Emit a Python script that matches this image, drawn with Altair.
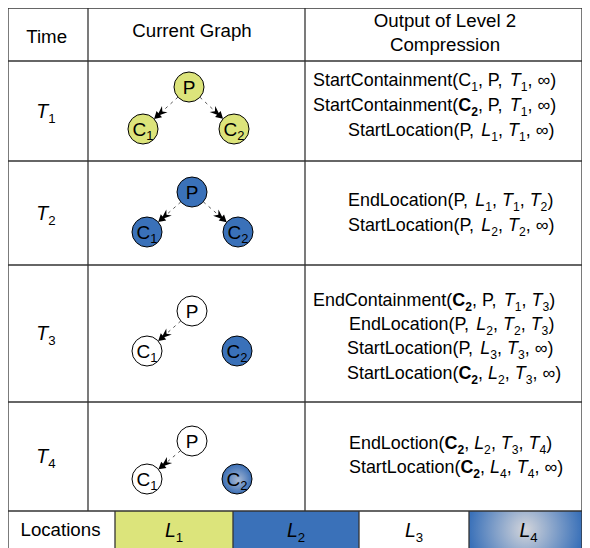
import math
import altair as alt
import pandas as pd

# ---------------- table layout (reference pixel coordinates) ----------------
col_x = [6, 88, 305, 588]
row_y = [4, 61, 161, 265, 402, 511]
legend_x = [6, 115, 233, 359, 469, 588]
legend_bottom = 548

headers = ["Time", "Current Graph", "Output of Level 2", "Compression"]
header_x = [47, 192, 445, 445]
header_y = [37, 31, 21, 45]

time_labels = ["*T_1", "*T_2", "*T_3", "*T_4"]
time_x = 46

# graph nodes per time row
p_x = [189, 192, 192, 192]
p_y = [87, 192, 311, 441]
c1_x = [143, 147, 147, 147]
c2_x = [234, 238, 237, 237]
c_y = [129, 232, 351, 479]
p_fill = ["yellow", "blue", "white", "white"]
c1_fill = ["yellow", "blue", "white", "white"]
c2_fill = ["yellow", "blue", "blue", "gradient"]
edge_targets = [["C1", "C2"], ["C1", "C2"], ["C1"], ["C1"]]

# markup: *X italic, #X bold, _X subscript, ~X bold subscript
output_lines = [
    ["StartContainment(C_1, P, *T_1, ∞)",
     "StartContainment(#C~2, P, *T_1, ∞)",
     "StartLocation(P, *L_1, *T_1, ∞)"],
    ["EndLocation(P, *L_1, *T_1, *T_2)",
     "StartLocation(P, *L_2, *T_2, ∞)"],
    ["EndContainment(#C~2, P, *T_1, *T_3)",
     "EndLocation(P, *L_2, *T_2, *T_3)",
     "StartLocation(P, *L_3, *T_3, ∞)",
     "StartLocation(#C~2, *L_2, *T_3, ∞)"],
    ["EndLoction(#C~2, *L_2, *T_3, *T_4)",
     "StartLocation(#C~2, *L_4, *T_4, ∞)"],
]
output_x = [[313, 313, 348], [348, 348], [313, 349, 347, 347], [349, 349]]
output_y = [[80, 105, 130], [200, 225], [300, 324, 348, 373], [443, 467]]

legend_labels = ["Locations", "*L_1", "*L_2", "*L_3", "*L_4"]
legend_fill = ["white", "yellow", "blue", "white", "gradient"]
legend_text_y = 530

palette = {"yellow": "#DCE47B", "blue": "#3A71B9", "white": "#FFFFFF"}

# ---------------- geometry helpers ----------------
W, H = 574, 540
# piecewise scales: 1:1 with the reference inside, squeezed only at the outer borders
XDOM, XRNG = [6, 14, 580, 588], [0, 6, 572, 574]
YDOM, YRNG = [4, 16, 548], [0, 8, 540]
sx = sy = 1.0

FONT = "Liberation Sans"
SUB = 0.68
CAP = 0.688

ARIAL = dict(zip("ABCDEFGHIJKLMNOPQRSTUVWXYZ",
                 [667, 667, 722, 722, 667, 611, 778, 722, 278, 500, 667, 556, 833,
                  722, 778, 667, 778, 722, 667, 611, 722, 667, 944, 667, 667, 611]))
ARIAL.update(dict(zip("abcdefghijklmnopqrstuvwxyz",
                      [556, 556, 500, 556, 556, 278, 556, 556, 222, 222, 500, 222, 833,
                       556, 556, 556, 556, 333, 500, 278, 556, 500, 722, 500, 500, 500])))
ARIAL.update({d: 556 for d in "0123456789"})
ARIAL.update({" ": 278, "(": 333, ")": 333, ",": 278, "∞": 713})


def parse(markup):
    toks, i = [], 0
    while i < len(markup):
        ch = markup[i]
        if ch in "*#_~" and i + 1 < len(markup):
            style = {"*": "i", "#": "b", "_": "n", "~": "b"}[ch]
            toks.append((markup[i + 1], style, ch in "_~"))
            i += 2
        else:
            toks.append((ch, "n", False))
            i += 1
    runs = []
    for c, style, sub in toks:
        if runs and runs[-1][1] == style and runs[-1][2] == sub:
            runs[-1][0] += c
        else:
            runs.append([c, style, sub])
    return runs


text_rows = []


def place(markup, x, yc, size, align="left"):
    runs = parse(markup)
    widths = []
    for txt, style, sub in runs:
        s = size * SUB if sub else size
        widths.append(sum(ARIAL.get(c, 556) for c in txt) / 1000 * s / sx)
    total = sum(widths)
    if align == "center":
        x = x - total / 2
    base = yc + CAP * size / 2 / sy
    for (txt, style, sub), w in zip(runs, widths):
        text_rows.append(dict(
            x=x, y=base + (0.26 * size / sy if sub else 0), text=txt, style=style,
            size=size * SUB if sub else size))
        x += w


for t, hx, hy in zip(headers, header_x, header_y):
    place(t, hx, hy, 18.7, "center")

for k in range(4):
    yc = (row_y[k + 1] + row_y[k + 2]) / 2
    place(time_labels[k], time_x, yc, 19.5, "center")
    place("P", p_x[k], p_y[k], 19, "center")
    place("C_1", c1_x[k], c_y[k], 19, "center")
    place("C_2", c2_x[k], c_y[k], 19, "center")
    for line, lx, ly in zip(output_lines[k], output_x[k], output_y[k]):
        place(line, lx, ly, 17.9)

for i, lab in enumerate(legend_labels):
    cx = (legend_x[i] + legend_x[i + 1]) / 2
    place(lab, cx, legend_text_y, 18.7 if i == 0 else 19.5, "center")

texts = pd.DataFrame(text_rows)

# grid lines
grid = []
for yv in row_y:
    grid.append(dict(x=col_x[0], x2=col_x[-1], y=yv, y2=yv))
for xv in col_x:
    grid.append(dict(x=xv, x2=xv, y=row_y[0], y2=row_y[-1]))
for xv in legend_x:
    grid.append(dict(x=xv, x2=xv, y=row_y[-1], y2=legend_bottom))
grid = pd.DataFrame(grid)

cells = pd.DataFrame([
    dict(x=legend_x[i], x2=legend_x[i + 1], y=row_y[-1], y2=legend_bottom, fill=legend_fill[i])
    for i in range(len(legend_fill))
])

nodes = []
for k in range(4):
    nodes.append(dict(x=p_x[k], y=p_y[k], fill=p_fill[k]))
    nodes.append(dict(x=c1_x[k], y=c_y[k], fill=c1_fill[k]))
    nodes.append(dict(x=c2_x[k], y=c_y[k], fill=c2_fill[k]))
nodes = pd.DataFrame(nodes)

R = 15.0          # node radius, px
HEAD = 220        # arrowhead symbol size
rh = math.sqrt(HEAD) / 2
edges, heads = [], []
for k in range(4):
    for tgt in edge_targets[k]:
        tx = c1_x[k] if tgt == "C1" else c2_x[k]
        ty = c_y[k]
        dxs, dys = (tx - p_x[k]) * sx, (ty - p_y[k]) * sy
        L = math.hypot(dxs, dys)
        ux, uy = dxs / L, dys / L
        sx0, sy0 = p_x[k] + ux * R / sx, p_y[k] + uy * R / sy
        tipx, tipy = tx - ux * R / sx, ty - uy * R / sy
        hx, hy = tipx - ux * rh / sx, tipy - uy * rh / sy
        edges.append(dict(x=sx0, y=sy0, x2=hx, y2=hy))
        heads.append(dict(x=hx, y=hy, angle=math.degrees(math.atan2(ux, -uy)) % 360))
edges = pd.DataFrame(edges)
heads = pd.DataFrame(heads)

# ---------------- chart ----------------
xs = alt.Scale(domain=XDOM, range=XRNG, nice=False, zero=False)
ys = alt.Scale(domain=YDOM, range=YRNG, nice=False, zero=False)
color_scale = alt.Scale(domain=list(palette), range=list(palette.values()))


def X(f):
    return alt.X(f, type="quantitative", scale=xs, axis=None)


def Y(f):
    return alt.Y(f, type="quantitative", scale=ys, axis=None)


cell_grad = alt.RadialGradient(
    gradient="radial",
    stops=[alt.GradientStop(color="#D3D5DB", offset=0),
           alt.GradientStop(color="#3A71B9", offset=1)],
    x1=0.5, y1=0.5, r1=0, x2=0.5, y2=0.5, r2=0.5)
node_grad = alt.RadialGradient(
    gradient="radial",
    stops=[alt.GradientStop(color="#A7B8D3", offset=0),
           alt.GradientStop(color="#3A6EB5", offset=1)],
    x1=0.55, y1=0.55, r1=0, x2=0.5, y2=0.5, r2=0.5)

cell_layer = alt.Chart(cells).transform_filter("datum.fill != 'gradient'").mark_rect().encode(
    x=X("x"), x2="x2", y=Y("y"), y2="y2",
    color=alt.Color("fill:N", scale=color_scale, legend=None))
cell_grad_layer = alt.Chart(cells).transform_filter("datum.fill == 'gradient'").mark_rect(
    fill=cell_grad).encode(x=X("x"), x2="x2", y=Y("y"), y2="y2")

grid_layer = alt.Chart(grid).mark_rule(color="#333333", strokeWidth=1.3).encode(
    x=X("x"), x2="x2", y=Y("y"), y2="y2")

edge_layer = alt.Chart(edges).mark_rule(color="#555555", strokeWidth=1, strokeDash=[3, 4]).encode(
    x=X("x"), x2="x2", y=Y("y"), y2="y2")

arrow_path = "M0,-1L0.55,-0.05L0.16,-0.05L0.55,0.95L0,0.5L-0.55,0.95L-0.16,-0.05L-0.55,-0.05Z"
head_layer = alt.Chart(heads).mark_point(
    shape=arrow_path, filled=True, color="black", size=HEAD, opacity=1).encode(
    x=X("x"), y=Y("y"), angle=alt.Angle("angle:Q", scale=None))

node_area = (2 * R) ** 2   # Vega symbol size is the area of the bounding square
node_layer = alt.Chart(nodes).transform_filter("datum.fill != 'gradient'").mark_circle(
    size=node_area, stroke="black", strokeWidth=1, opacity=1).encode(
    x=X("x"), y=Y("y"), color=alt.Color("fill:N", scale=color_scale, legend=None))
node_grad_layer = alt.Chart(nodes).transform_filter("datum.fill == 'gradient'").mark_circle(
    size=node_area, stroke="black", strokeWidth=1, opacity=1, fill=node_grad).encode(
    x=X("x"), y=Y("y"))


def text_layer(style, **kw):
    return alt.Chart(texts).transform_filter(f"datum.style == '{style}'").mark_text(
        align="left", baseline="alphabetic", font=FONT, color="black", **kw).encode(
        x=X("x"), y=Y("y"), text="text:N", size=alt.Size("size:Q", scale=None))


chart = alt.layer(
    cell_layer, cell_grad_layer, grid_layer, edge_layer, head_layer,
    node_layer, node_grad_layer,
    text_layer("n"), text_layer("i", fontStyle="italic"), text_layer("b", fontWeight="bold"),
).properties(
    width=W, height=H, padding=0, autosize=alt.AutoSizeParams(type="none"),
    background="white",
).configure_view(stroke=None)

chart.save("out.html", embed_options={"renderer": "svg", "actions": False})
